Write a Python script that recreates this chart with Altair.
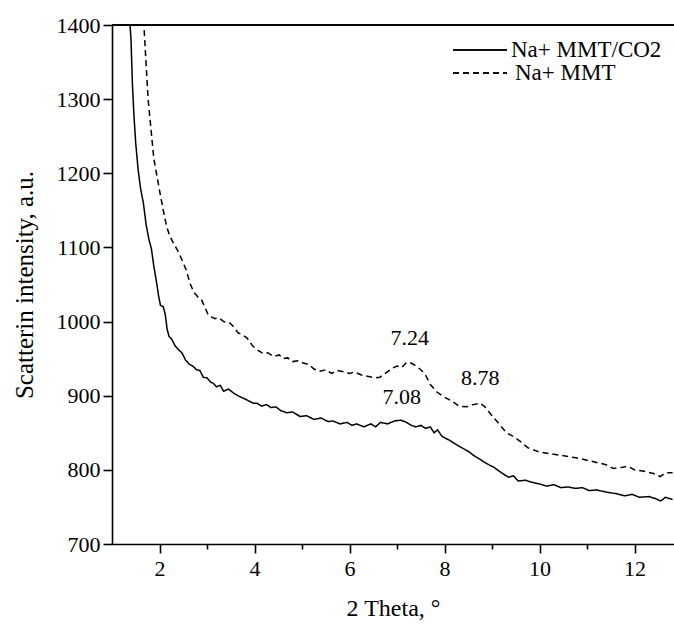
import altair as alt
import pandas as pd

# Na+ MMT/CO2 (solid)
co2_x = [1.36, 1.40, 1.43, 1.46, 1.50, 1.55, 1.60, 1.66, 1.72, 1.78, 1.83, 1.88, 1.94, 1.98,
         2.02, 2.08, 2.12, 2.16, 2.20, 2.26, 2.32, 2.40, 2.47, 2.55, 2.62, 2.70, 2.78, 2.85,
         2.92, 3.00, 3.08, 3.13, 3.20, 3.28, 3.35, 3.45, 3.55, 3.65, 3.75, 3.85, 3.97, 4.05,
         4.15, 4.25, 4.35, 4.45, 4.55, 4.68, 4.80, 4.96, 5.10, 5.25, 5.40, 5.55, 5.65, 5.80,
         5.95, 6.05, 6.15, 6.30, 6.45, 6.55, 6.65, 6.80, 6.95, 7.08, 7.20, 7.30, 7.40, 7.50,
         7.60, 7.70, 7.78, 7.85, 7.95, 8.10, 8.30, 8.50, 8.60, 8.75, 8.90, 9.05, 9.20, 9.35,
         9.45, 9.55, 9.70, 9.85, 10.00, 10.15, 10.30, 10.45, 10.60, 10.75, 10.90, 11.05,
         11.20, 11.40, 11.60, 11.80, 11.95, 12.10, 12.30, 12.45, 12.55, 12.65, 12.80]
co2_y = [1420, 1380, 1320, 1280, 1240, 1205, 1180, 1160, 1130, 1110, 1098, 1075, 1052, 1035,
         1022, 1020, 1010, 990, 980, 976, 968, 962, 958, 948, 943, 940, 935, 934,
         925, 924, 918, 917, 912, 914, 906, 909, 904, 900, 897, 894, 890, 890,
         886, 888, 884, 885, 880, 877, 878, 872, 873, 868, 870, 865, 866, 862,
         864, 860, 862, 858, 862, 858, 864, 862, 866, 867, 864, 860, 858, 860,
         856, 858, 850, 854, 845, 840, 832, 825, 820, 814, 808, 803, 796, 790,
         792, 785, 786, 783, 781, 778, 780, 776, 777, 775, 776, 772,
         773, 770, 768, 765, 767, 763, 764, 761, 758, 763, 760]

# Na+ MMT (dashed)
mmt_x = [1.66, 1.68, 1.72, 1.76, 1.82, 1.88, 1.95, 2.02, 2.08, 2.15, 2.22, 2.30, 2.39, 2.48,
         2.56, 2.64, 2.72, 2.81, 2.88, 2.95, 3.02, 3.10, 3.17, 3.25, 3.35, 3.48, 3.56, 3.65,
         3.75, 3.84, 3.95, 4.05, 4.18, 4.28, 4.40, 4.52, 4.60, 4.70, 4.80, 4.92, 5.03, 5.15,
         5.25, 5.38, 5.50, 5.62, 5.75, 5.90, 6.00, 6.10, 6.25, 6.40, 6.55, 6.64, 6.75, 6.90,
         7.00, 7.10, 7.20, 7.30, 7.40, 7.50, 7.60, 7.70, 7.84, 8.00, 8.15, 8.30, 8.47, 8.60,
         8.75, 8.85, 9.00, 9.15, 9.30, 9.45, 9.60, 9.75, 9.87, 10.00, 10.20, 10.40, 10.60,
         10.80, 11.00, 11.20, 11.40, 11.55, 11.70, 11.85, 12.00, 12.20, 12.40, 12.54, 12.65, 12.80]
mmt_y = [1420, 1390, 1345, 1300, 1260, 1220, 1195, 1170, 1150, 1128, 1115, 1105, 1095, 1082,
         1070, 1052, 1040, 1033, 1030, 1020, 1010, 1006, 1004, 1005, 1000, 998, 993, 985,
         982, 978, 968, 962, 957, 958, 953, 955, 950, 951, 946, 947, 944, 942,
         936, 933, 935, 930, 934, 932, 930, 932, 928, 926, 924, 925, 930, 937,
         940, 938, 945, 944, 940, 935, 928, 915, 905, 898, 893, 886, 885, 888,
         890, 885, 873, 862, 850, 845, 838, 830, 827, 824, 822, 820, 818,
         816, 813, 810, 807, 802, 803, 805, 800, 798, 795, 791, 796, 796]

series_names = ["Na+ MMT/CO2", "Na+ MMT"]

peak_labels = ["7.24", "7.08", "8.78"]
peak_x = [7.27, 7.10, 8.75]
peak_y = [978, 898, 924]

x_ticks = [2, 3, 4, 5, 6, 7, 8, 9, 10, 11, 12]
y_ticks = [700, 750, 800, 850, 900, 950, 1000, 1050, 1100, 1150, 1200, 1250, 1300, 1350, 1400]

df = pd.concat([
    pd.DataFrame({"x": co2_x, "y": co2_y, "series": series_names[0]}),
    pd.DataFrame({"x": mmt_x, "y": mmt_y, "series": series_names[1]}),
])
ann = pd.DataFrame({"label": peak_labels, "x": peak_x, "y": peak_y})

FONT = "Liberation Serif, Times New Roman, Times, serif"
W, H = 562, 519

xscale = alt.Scale(domain=[1, 12.83], nice=False, zero=False)
yscale = alt.Scale(domain=[700, 1400], nice=False, zero=False)

xaxis = alt.Axis(
    title="2 Theta, °", values=x_ticks, format="d",
    labelExpr="datum.value % 2 === 0 ? datum.label : ''",
    tickSize={"condition": {"test": "datum.value % 2 === 0", "value": 9}, "value": 5},
    grid=False, domainColor="black", tickColor="black", domainWidth=1.6, tickWidth=1.6,
    labelFont=FONT, labelFontSize=22, labelColor="black", labelPadding=5,
    titleFont=FONT, titleFontSize=24, titleFontWeight="normal", titleColor="black",
    titlePadding=17,
)
yaxis = alt.Axis(
    title="Scatterin intensity, a.u.", values=y_ticks, format="d",
    labelExpr="datum.value % 100 === 0 ? datum.label : ''",
    tickSize={"condition": {"test": "datum.value % 100 === 0", "value": 9}, "value": 5},
    grid=False, domainColor="black", tickColor="black", domainWidth=1.6, tickWidth=1.6,
    labelFont=FONT, labelFontSize=22, labelColor="black", labelPadding=3,
    titleFont=FONT, titleFontSize=25, titleFontWeight="normal", titleColor="black",
    titlePadding=19,
)

lines = alt.Chart(df).mark_line(color="black", strokeWidth=1.5, clip=True).encode(
    x=alt.X("x:Q", scale=xscale, axis=xaxis),
    y=alt.Y("y:Q", scale=yscale, axis=yaxis),
    strokeDash=alt.StrokeDash(
        "series:N",
        scale=alt.Scale(domain=series_names, range=[[1, 0], [6, 4]]),
        legend=None,
    ),
    detail="series:N",
)

labels = alt.Chart(ann).mark_text(font=FONT, fontSize=22, color="black", baseline="middle").encode(
    x=alt.X("x:Q", scale=xscale),
    y=alt.Y("y:Q", scale=yscale),
    text="label:N",
)

top_line = alt.Chart(ann).mark_rule(color="black", strokeWidth=1.6).encode(
    x=alt.value(0), x2=alt.value(W), y=alt.value(0)
)

leg_df = pd.DataFrame({"label": series_names})
leg1_line = alt.Chart(leg_df).mark_rule(color="black", strokeWidth=1.5).encode(
    x=alt.value(341), x2=alt.value(395), y=alt.value(25)
)
leg2_line = alt.Chart(leg_df).mark_rule(color="black", strokeWidth=1.5, strokeDash=[6, 4]).encode(
    x=alt.value(341), x2=alt.value(395), y=alt.value(48)
)
leg1_text = alt.Chart(leg_df.iloc[[0]]).mark_text(
    font=FONT, fontSize=23, color="black", align="left", baseline="middle"
).encode(x=alt.value(399), y=alt.value(25), text="label:N")
leg2_text = alt.Chart(leg_df.iloc[[1]]).mark_text(
    font=FONT, fontSize=23, color="black", align="left", baseline="middle"
).encode(x=alt.value(403), y=alt.value(48), text="label:N")

chart = alt.layer(
    lines, labels, top_line, leg1_line, leg2_line, leg1_text, leg2_text
).properties(
    width=W, height=H,
    autosize=alt.AutoSizeParams(type="none"),
    padding={"left": 112, "top": 25, "right": 0, "bottom": 83},
    background="white",
).configure_view(stroke=None)

chart.save("out.html", embed_options={"renderer": "svg", "actions": False})
